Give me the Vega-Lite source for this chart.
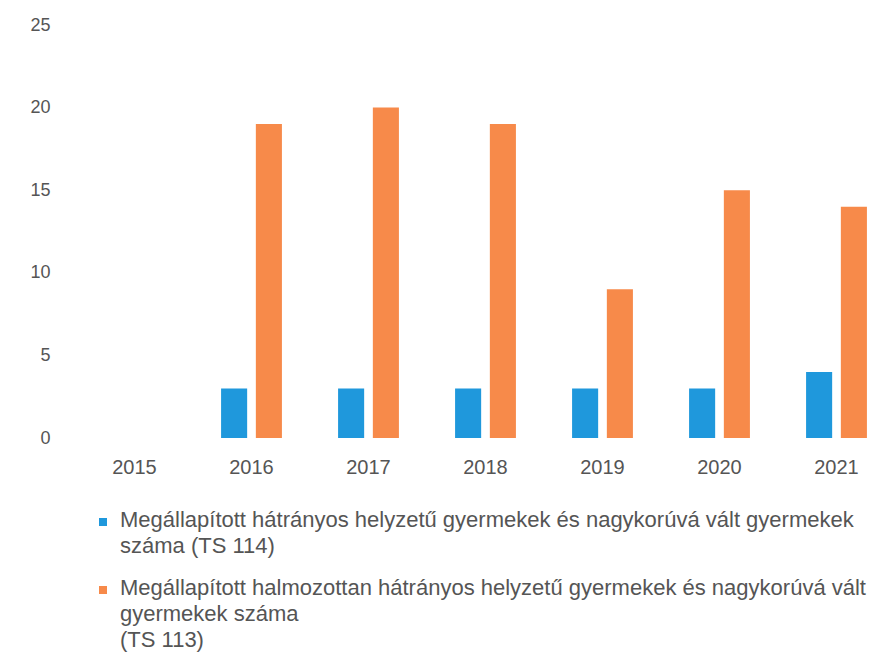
{
  "$schema": "https://vega.github.io/schema/vega-lite/v6.json",
  "width": 801,
  "height": 413,
  "autosize": {"type": "none"},
  "padding": {"left": 72, "top": 25, "right": 0, "bottom": 223},
  "background": "white",
  "config": {
    "view": {"stroke": null},
    "font": "Liberation Sans"
  },
  "data": {
    "values": [
      {"year": "2016", "series": "TS 114", "value": 3},
      {"year": "2016", "series": "TS 113", "value": 19},
      {"year": "2017", "series": "TS 114", "value": 3},
      {"year": "2017", "series": "TS 113", "value": 20},
      {"year": "2018", "series": "TS 114", "value": 3},
      {"year": "2018", "series": "TS 113", "value": 19},
      {"year": "2019", "series": "TS 114", "value": 3},
      {"year": "2019", "series": "TS 113", "value": 9},
      {"year": "2020", "series": "TS 114", "value": 3},
      {"year": "2020", "series": "TS 113", "value": 15},
      {"year": "2021", "series": "TS 114", "value": 4},
      {"year": "2021", "series": "TS 113", "value": 14}
    ]
  },
  "mark": {"type": "bar"},
  "encoding": {
    "x": {
      "field": "year",
      "type": "nominal",
      "scale": {
        "domain": ["2015", "2016", "2017", "2018", "2019", "2020", "2021"],
        "range": [4, 823],
        "paddingInner": 0.48,
        "paddingOuter": 0.24
      },
      "axis": {
        "title": null,
        "labelAngle": 0,
        "domain": false,
        "ticks": false,
        "grid": false,
        "labelFontSize": 20,
        "labelColor": "#555555",
        "labelPadding": 19
      }
    },
    "xOffset": {
      "field": "series",
      "type": "nominal",
      "sort": ["TS 114", "TS 113"],
      "scale": {"paddingInner": 0.25}
    },
    "y": {
      "field": "value",
      "type": "quantitative",
      "scale": {"domain": [0, 25]},
      "axis": {
        "title": null,
        "values": [0, 5, 10, 15, 20, 25],
        "domain": false,
        "ticks": false,
        "grid": false,
        "labelFontSize": 18,
        "labelColor": "#555555",
        "labelPadding": 22
      }
    },
    "color": {
      "field": "series",
      "type": "nominal",
      "scale": {"domain": ["TS 114", "TS 113"], "range": ["#1f98dc", "#f78a4a"]},
      "legend": {
        "orient": "none",
        "legendX": 20,
        "legendY": 486,
        "direction": "vertical",
        "title": null,
        "symbolType": "square",
        "symbolSize": 64,
        "symbolStrokeWidth": 0,
        "labelFontSize": 22,
        "labelColor": "#555555",
        "labelLimit": 900,
        "labelOffset": 6,
        "labelBaseline": "top",
        "rowPadding": 20,
        "labelExpr": "datum.value == 'TS 114' ? ['Megállapított hátrányos helyzetű gyermekek és nagykorúvá vált gyermekek', 'száma (TS 114)'] : ['Megállapított halmozottan hátrányos helyzetű gyermekek és nagykorúvá vált', 'gyermekek száma', '(TS 113)']",
        "encode": {"labels": {"update": {"dy": {"value": -12}, "lineHeight": {"value": 26}}}}
      }
    }
  }
}
